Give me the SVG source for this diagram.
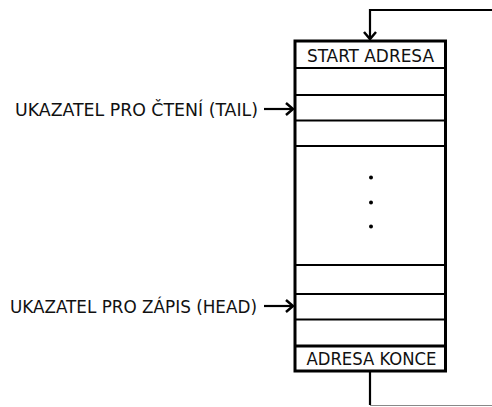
<svg xmlns="http://www.w3.org/2000/svg" width="492" height="407" viewBox="0 0 492 407">
<defs>
<style>
.t{font-family:"DejaVu Sans Condensed","Liberation Sans Narrow","Liberation Sans",sans-serif;font-size:18.5px;fill:#111}
.c{fill:none;stroke:#000;stroke-width:2.2}
.d{stroke:#000;stroke-width:2}
.dt{stroke:#000;stroke-width:3}
</style>
<marker id="ah" markerWidth="14" markerHeight="14" refX="11" refY="7" orient="auto" markerUnits="userSpaceOnUse">
<path d="M4,1 L11,7 L4,13" fill="none" stroke="#000" stroke-width="2.5"/>
</marker>
</defs>
<rect width="492" height="407" fill="#fff"/>
<g id="buffer">
<rect x="295" y="41" width="150.5" height="330" fill="#fff" stroke="#000" stroke-width="3"/>
<line class="d" x1="295" y1="68" x2="445.5" y2="68"/>
<line class="d" x1="295" y1="95" x2="445.5" y2="95"/>
<line class="d" x1="295" y1="120.5" x2="445.5" y2="120.5"/>
<line class="d" x1="295" y1="146" x2="445.5" y2="146"/>
<line class="d" x1="295" y1="265" x2="445.5" y2="265"/>
<line class="d" x1="295" y1="294" x2="445.5" y2="294"/>
<line class="d" x1="295" y1="319.5" x2="445.5" y2="319.5"/>
<line class="dt" x1="295" y1="346" x2="445.5" y2="346"/>
<text class="t" x="370.5" y="62" text-anchor="middle" textLength="127" lengthAdjust="spacingAndGlyphs">START ADRESA</text>
<text class="t" x="371.5" y="365" text-anchor="middle" textLength="130" lengthAdjust="spacingAndGlyphs">ADRESA KONCE</text>
<circle cx="371" cy="177.5" r="2" fill="#000"/>
<circle cx="371" cy="202.5" r="2" fill="#000"/>
<circle cx="371" cy="226.5" r="2" fill="#000"/>
</g>
<g id="tail">
<text class="t" x="15" y="116" textLength="243" lengthAdjust="spacingAndGlyphs">UKAZATEL PRO ČTENÍ (TAIL)</text>
</g>
<g id="head">
<text class="t" x="10" y="312.5" textLength="247" lengthAdjust="spacingAndGlyphs">UKAZATEL PRO ZÁPIS (HEAD)</text>
</g>
<g id="connectors">
<line class="c" x1="264" y1="109" x2="293" y2="109" marker-end="url(#ah)"/>
<line class="c" x1="264" y1="306" x2="293" y2="306" marker-end="url(#ah)"/>
<polyline class="c" points="492,10 370,10 370,39" marker-end="url(#ah)"/>
<polyline class="c" points="370,372 370,405" />
<line x1="370" y1="405.5" x2="492" y2="405.5" stroke="#888" stroke-width="1"/>
</g>
</svg>
